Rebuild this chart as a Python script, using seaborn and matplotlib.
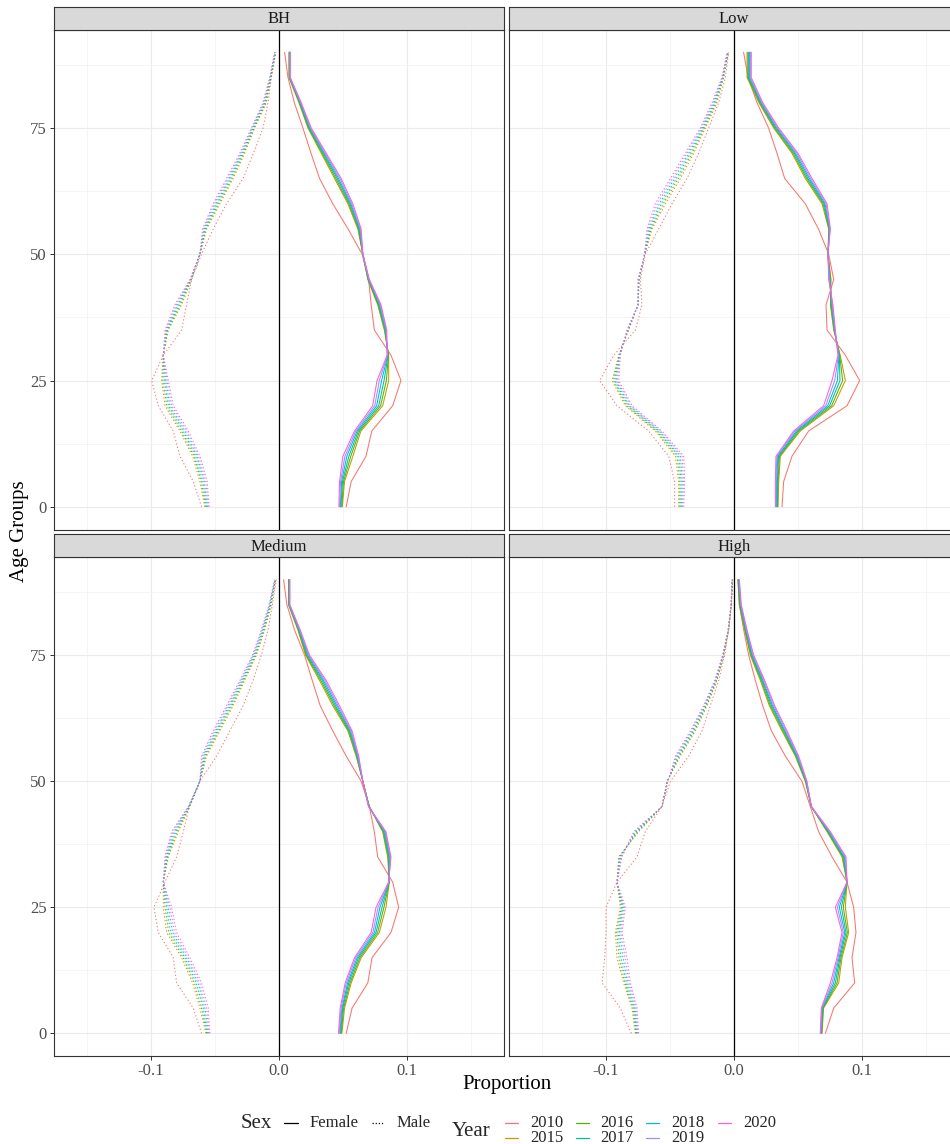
import matplotlib
matplotlib.use("Agg")
import matplotlib.pyplot as plt
from matplotlib.lines import Line2D
import pandas as pd
import seaborn as sns

# ---------------- data ----------------
ages = [0, 5, 10, 15, 20, 25, 30, 35, 40, 45, 50, 55, 60, 65, 70, 75, 80, 85, 90]
years = ["2010", "2015", "2016", "2017", "2018", "2019", "2020"]
regions = ["BH", "Low", "Medium", "High"]
sexes = ["Female", "Male"]
year_colors = ["#F8766D", "#C49A00", "#53B400", "#00C094", "#00B6EB", "#A58AFF", "#FB61D7"]

# BH
bh_f_2010 = [0.0525,0.0564,0.0680,0.0725,0.0888,0.0953,0.0875,0.0745,0.0720,0.0700,0.0650,0.0540,0.0420,0.0317,0.0250,0.0187,0.0120,0.0070,0.0044]
bh_f_2015 = [0.0495,0.0512,0.0577,0.0640,0.0810,0.0857,0.0857,0.0823,0.0771,0.0694,0.0655,0.0616,0.0538,0.0434,0.0330,0.0226,0.0156,0.0078,0.0078]
bh_f_2016 = [0.0490,0.0504,0.0561,0.0630,0.0794,0.0839,0.0855,0.0827,0.0776,0.0696,0.0655,0.0621,0.0546,0.0444,0.0338,0.0231,0.0160,0.0080,0.0080]
bh_f_2017 = [0.0484,0.0496,0.0546,0.0620,0.0779,0.0821,0.0852,0.0831,0.0781,0.0699,0.0655,0.0626,0.0554,0.0455,0.0346,0.0236,0.0163,0.0082,0.0082]
bh_f_2018 = [0.0479,0.0489,0.0530,0.0610,0.0763,0.0802,0.0850,0.0834,0.0787,0.0701,0.0655,0.0632,0.0561,0.0465,0.0353,0.0242,0.0167,0.0084,0.0084]
bh_f_2019 = [0.0473,0.0481,0.0515,0.0600,0.0748,0.0784,0.0847,0.0838,0.0792,0.0704,0.0655,0.0637,0.0569,0.0476,0.0361,0.0247,0.0170,0.0086,0.0086]
bh_f_2020 = [0.0468,0.0473,0.0499,0.0590,0.0732,0.0766,0.0845,0.0842,0.0797,0.0706,0.0655,0.0642,0.0577,0.0486,0.0369,0.0252,0.0174,0.0088,0.0088]

bh_m_2010 = [-0.0605,-0.0670,-0.0774,-0.0826,-0.0943,-0.0995,-0.0904,-0.0761,-0.0722,-0.0683,-0.0605,-0.0514,-0.0410,-0.0280,-0.0200,-0.0125,-0.0086,-0.0060,-0.0026]
bh_m_2015 = [-0.0580,-0.0618,-0.0675,-0.0774,-0.0890,-0.0917,-0.0904,-0.0865,-0.0761,-0.0683,-0.0618,-0.0566,-0.0462,-0.0358,-0.0268,-0.0190,-0.0099,-0.0060,-0.0026]
bh_m_2016 = [-0.0573,-0.0607,-0.0664,-0.0761,-0.0877,-0.0907,-0.0904,-0.0870,-0.0771,-0.0686,-0.0618,-0.0572,-0.0472,-0.0368,-0.0276,-0.0195,-0.0104,-0.0063,-0.0028]
bh_m_2017 = [-0.0566,-0.0595,-0.0652,-0.0748,-0.0864,-0.0896,-0.0904,-0.0875,-0.0782,-0.0688,-0.0618,-0.0578,-0.0483,-0.0379,-0.0283,-0.0200,-0.0109,-0.0065,-0.0029]
bh_m_2018 = [-0.0559,-0.0584,-0.0641,-0.0735,-0.0852,-0.0886,-0.0904,-0.0880,-0.0792,-0.0691,-0.0618,-0.0585,-0.0493,-0.0389,-0.0291,-0.0206,-0.0115,-0.0068,-0.0031]
bh_m_2019 = [-0.0552,-0.0572,-0.0629,-0.0722,-0.0839,-0.0875,-0.0904,-0.0885,-0.0803,-0.0693,-0.0618,-0.0591,-0.0504,-0.0400,-0.0298,-0.0211,-0.0120,-0.0070,-0.0032]
bh_m_2020 = [-0.0545,-0.0561,-0.0618,-0.0709,-0.0826,-0.0865,-0.0904,-0.0890,-0.0813,-0.0696,-0.0618,-0.0597,-0.0514,-0.0410,-0.0306,-0.0216,-0.0125,-0.0073,-0.0034]

# Low
low_f_2010 = [0.0375,0.0388,0.0453,0.0583,0.0883,0.0982,0.0870,0.0727,0.0719,0.0779,0.0740,0.0660,0.0557,0.0396,0.0336,0.0270,0.0180,0.0110,0.0075]
low_f_2015 = [0.0344,0.0349,0.0362,0.0518,0.0779,0.0870,0.0830,0.0779,0.0753,0.0758,0.0734,0.0740,0.0688,0.0557,0.0453,0.0310,0.0195,0.0102,0.0102]
low_f_2016 = [0.0340,0.0344,0.0355,0.0508,0.0763,0.0849,0.0826,0.0782,0.0757,0.0754,0.0734,0.0743,0.0696,0.0568,0.0462,0.0318,0.0201,0.0109,0.0109]
low_f_2017 = [0.0336,0.0339,0.0348,0.0497,0.0747,0.0828,0.0823,0.0784,0.0761,0.0751,0.0734,0.0745,0.0704,0.0578,0.0472,0.0326,0.0207,0.0115,0.0115]
low_f_2018 = [0.0331,0.0333,0.0342,0.0487,0.0732,0.0808,0.0819,0.0787,0.0765,0.0747,0.0734,0.0748,0.0711,0.0589,0.0481,0.0333,0.0213,0.0122,0.0122]
low_f_2019 = [0.0327,0.0328,0.0335,0.0476,0.0716,0.0787,0.0816,0.0789,0.0769,0.0744,0.0734,0.0750,0.0719,0.0599,0.0491,0.0341,0.0219,0.0128,0.0128]
low_f_2020 = [0.0323,0.0323,0.0328,0.0466,0.0700,0.0766,0.0812,0.0792,0.0773,0.0740,0.0734,0.0753,0.0727,0.0610,0.0500,0.0349,0.0225,0.0135,0.0135]

low_m_2010 = [-0.0464,-0.0464,-0.0510,-0.0667,-0.0914,-0.1050,-0.0940,-0.0770,-0.0719,-0.0732,-0.0693,-0.0589,-0.0484,-0.0367,-0.0276,-0.0198,-0.0120,-0.0068,-0.0042]
low_m_2015 = [-0.0432,-0.0432,-0.0458,-0.0615,-0.0849,-0.0953,-0.0900,-0.0823,-0.0750,-0.0740,-0.0698,-0.0640,-0.0536,-0.0419,-0.0315,-0.0224,-0.0133,-0.0081,-0.0042]
low_m_2016 = [-0.0424,-0.0423,-0.0445,-0.0605,-0.0839,-0.0942,-0.0898,-0.0826,-0.0750,-0.0742,-0.0698,-0.0648,-0.0552,-0.0435,-0.0328,-0.0232,-0.0141,-0.0084,-0.0045]
low_m_2017 = [-0.0416,-0.0413,-0.0432,-0.0594,-0.0828,-0.0932,-0.0895,-0.0828,-0.0750,-0.0744,-0.0698,-0.0656,-0.0568,-0.0450,-0.0341,-0.0240,-0.0149,-0.0086,-0.0047]
low_m_2018 = [-0.0409,-0.0404,-0.0419,-0.0584,-0.0818,-0.0921,-0.0893,-0.0831,-0.0750,-0.0746,-0.0698,-0.0664,-0.0583,-0.0466,-0.0354,-0.0247,-0.0156,-0.0089,-0.0050]
low_m_2019 = [-0.0401,-0.0394,-0.0406,-0.0573,-0.0807,-0.0911,-0.0890,-0.0833,-0.0750,-0.0748,-0.0698,-0.0672,-0.0599,-0.0481,-0.0367,-0.0255,-0.0164,-0.0091,-0.0052]
low_m_2020 = [-0.0393,-0.0385,-0.0393,-0.0563,-0.0797,-0.0900,-0.0888,-0.0836,-0.0750,-0.0750,-0.0698,-0.0680,-0.0615,-0.0497,-0.0380,-0.0263,-0.0172,-0.0094,-0.0055]

# Medium
med_f_2010 = [0.0525,0.0571,0.0694,0.0727,0.0875,0.0935,0.0888,0.0771,0.0745,0.0706,0.0642,0.0525,0.0420,0.0322,0.0260,0.0200,0.0122,0.0062,0.0036]
med_f_2015 = [0.0491,0.0512,0.0564,0.0642,0.0784,0.0836,0.0862,0.0849,0.0810,0.0706,0.0655,0.0603,0.0538,0.0420,0.0317,0.0208,0.0148,0.0075,0.0075]
med_f_2016 = [0.0486,0.0505,0.0555,0.0632,0.0771,0.0820,0.0861,0.0854,0.0815,0.0705,0.0655,0.0607,0.0545,0.0431,0.0327,0.0214,0.0152,0.0077,0.0077]
med_f_2017 = [0.0481,0.0498,0.0545,0.0621,0.0758,0.0805,0.0860,0.0859,0.0820,0.0703,0.0655,0.0611,0.0551,0.0441,0.0338,0.0220,0.0155,0.0079,0.0079]
med_f_2018 = [0.0475,0.0492,0.0536,0.0611,0.0746,0.0789,0.0859,0.0865,0.0826,0.0702,0.0655,0.0615,0.0558,0.0452,0.0348,0.0227,0.0159,0.0081,0.0081]
med_f_2019 = [0.0470,0.0485,0.0526,0.0600,0.0733,0.0774,0.0858,0.0870,0.0831,0.0700,0.0655,0.0619,0.0564,0.0462,0.0359,0.0233,0.0162,0.0083,0.0083]
med_f_2020 = [0.0465,0.0478,0.0517,0.0590,0.0720,0.0758,0.0857,0.0875,0.0836,0.0699,0.0655,0.0623,0.0571,0.0473,0.0369,0.0239,0.0166,0.0085,0.0085]

med_m_2010 = [-0.0605,-0.0670,-0.0800,-0.0826,-0.0943,-0.0977,-0.0891,-0.0800,-0.0748,-0.0701,-0.0618,-0.0488,-0.0384,-0.0280,-0.0203,-0.0138,-0.0086,-0.0052,-0.0021]
med_m_2015 = [-0.0571,-0.0618,-0.0675,-0.0761,-0.0878,-0.0904,-0.0904,-0.0865,-0.0787,-0.0696,-0.0618,-0.0566,-0.0462,-0.0358,-0.0268,-0.0177,-0.0112,-0.0060,-0.0026]
med_m_2016 = [-0.0565,-0.0605,-0.0661,-0.0748,-0.0862,-0.0891,-0.0904,-0.0870,-0.0797,-0.0699,-0.0618,-0.0574,-0.0472,-0.0368,-0.0276,-0.0183,-0.0117,-0.0064,-0.0028]
med_m_2017 = [-0.0559,-0.0592,-0.0647,-0.0735,-0.0847,-0.0878,-0.0904,-0.0875,-0.0808,-0.0701,-0.0618,-0.0582,-0.0483,-0.0379,-0.0283,-0.0189,-0.0122,-0.0067,-0.0029]
med_m_2018 = [-0.0552,-0.0579,-0.0633,-0.0722,-0.0831,-0.0865,-0.0904,-0.0881,-0.0818,-0.0704,-0.0618,-0.0589,-0.0493,-0.0389,-0.0291,-0.0196,-0.0128,-0.0071,-0.0031]
med_m_2019 = [-0.0546,-0.0566,-0.0619,-0.0709,-0.0816,-0.0852,-0.0904,-0.0886,-0.0829,-0.0706,-0.0618,-0.0597,-0.0504,-0.0400,-0.0298,-0.0202,-0.0133,-0.0074,-0.0032]
med_m_2020 = [-0.0540,-0.0553,-0.0605,-0.0696,-0.0800,-0.0839,-0.0904,-0.0891,-0.0839,-0.0709,-0.0618,-0.0605,-0.0514,-0.0410,-0.0306,-0.0208,-0.0138,-0.0078,-0.0034]

# High
high_f_2010 = [0.0714,0.0779,0.0943,0.0922,0.0953,0.0935,0.0883,0.0766,0.0661,0.0596,0.0531,0.0401,0.0292,0.0224,0.0167,0.0115,0.0076,0.0042,0.0031]
high_f_2015 = [0.0688,0.0700,0.0818,0.0844,0.0896,0.0870,0.0883,0.0844,0.0727,0.0604,0.0557,0.0479,0.0375,0.0276,0.0206,0.0128,0.0083,0.0042,0.0031]
high_f_2016 = [0.0685,0.0696,0.0805,0.0836,0.0886,0.0854,0.0883,0.0850,0.0732,0.0604,0.0560,0.0484,0.0383,0.0284,0.0213,0.0133,0.0087,0.0045,0.0033]
high_f_2017 = [0.0682,0.0693,0.0792,0.0828,0.0875,0.0839,0.0883,0.0856,0.0737,0.0604,0.0562,0.0489,0.0391,0.0293,0.0220,0.0138,0.0091,0.0048,0.0035]
high_f_2018 = [0.0680,0.0689,0.0779,0.0821,0.0865,0.0823,0.0883,0.0863,0.0743,0.0604,0.0565,0.0495,0.0398,0.0301,0.0226,0.0144,0.0094,0.0051,0.0038]
high_f_2019 = [0.0677,0.0686,0.0766,0.0813,0.0854,0.0808,0.0883,0.0869,0.0748,0.0604,0.0567,0.0500,0.0406,0.0310,0.0233,0.0149,0.0098,0.0054,0.0040]
high_f_2020 = [0.0674,0.0682,0.0753,0.0805,0.0844,0.0792,0.0883,0.0875,0.0753,0.0604,0.0570,0.0505,0.0414,0.0318,0.0240,0.0154,0.0102,0.0057,0.0042]

high_m_2010 = [-0.0802,-0.0888,-0.1031,-0.1010,-0.1000,-0.1000,-0.0914,-0.0758,-0.0693,-0.0563,-0.0497,-0.0354,-0.0250,-0.0185,-0.0120,-0.0073,-0.0042,-0.0021,-0.0016]
high_m_2015 = [-0.0771,-0.0797,-0.0862,-0.0914,-0.0927,-0.0888,-0.0914,-0.0901,-0.0745,-0.0563,-0.0523,-0.0419,-0.0302,-0.0211,-0.0133,-0.0081,-0.0042,-0.0021,-0.0010]
high_m_2016 = [-0.0766,-0.0789,-0.0852,-0.0898,-0.0917,-0.0880,-0.0914,-0.0896,-0.0753,-0.0563,-0.0522,-0.0427,-0.0310,-0.0216,-0.0137,-0.0082,-0.0043,-0.0021,-0.0011]
high_m_2017 = [-0.0761,-0.0781,-0.0841,-0.0883,-0.0906,-0.0872,-0.0914,-0.0891,-0.0761,-0.0563,-0.0520,-0.0435,-0.0318,-0.0221,-0.0140,-0.0084,-0.0044,-0.0022,-0.0012]
high_m_2018 = [-0.0755,-0.0774,-0.0831,-0.0867,-0.0896,-0.0865,-0.0914,-0.0885,-0.0768,-0.0563,-0.0519,-0.0442,-0.0325,-0.0227,-0.0144,-0.0086,-0.0045,-0.0022,-0.0014]
high_m_2019 = [-0.0750,-0.0766,-0.0820,-0.0852,-0.0885,-0.0857,-0.0914,-0.0880,-0.0776,-0.0563,-0.0517,-0.0450,-0.0333,-0.0232,-0.0147,-0.0087,-0.0046,-0.0023,-0.0015]
high_m_2020 = [-0.0745,-0.0758,-0.0810,-0.0836,-0.0875,-0.0849,-0.0914,-0.0875,-0.0784,-0.0563,-0.0516,-0.0458,-0.0341,-0.0237,-0.0151,-0.0089,-0.0047,-0.0023,-0.0016]

series = {
    ("BH", "Female"): [bh_f_2010, bh_f_2015, bh_f_2016, bh_f_2017, bh_f_2018, bh_f_2019, bh_f_2020],
    ("BH", "Male"): [bh_m_2010, bh_m_2015, bh_m_2016, bh_m_2017, bh_m_2018, bh_m_2019, bh_m_2020],
    ("Low", "Female"): [low_f_2010, low_f_2015, low_f_2016, low_f_2017, low_f_2018, low_f_2019, low_f_2020],
    ("Low", "Male"): [low_m_2010, low_m_2015, low_m_2016, low_m_2017, low_m_2018, low_m_2019, low_m_2020],
    ("Medium", "Female"): [med_f_2010, med_f_2015, med_f_2016, med_f_2017, med_f_2018, med_f_2019, med_f_2020],
    ("Medium", "Male"): [med_m_2010, med_m_2015, med_m_2016, med_m_2017, med_m_2018, med_m_2019, med_m_2020],
    ("High", "Female"): [high_f_2010, high_f_2015, high_f_2016, high_f_2017, high_f_2018, high_f_2019, high_f_2020],
    ("High", "Male"): [high_m_2010, high_m_2015, high_m_2016, high_m_2017, high_m_2018, high_m_2019, high_m_2020],
}

rows = []
for (reg, sex), lists in series.items():
    for yr, vals in zip(years, lists):
        for a, v in zip(ages, vals):
            rows.append({"Region": reg, "Sex": sex, "Year": yr, "Age": a, "Proportion": v})
df = pd.DataFrame(rows)

# ---------------- style ----------------
sns.set_theme(style="white")
plt.rcParams["font.family"] = ["Liberation Serif", "DejaVu Serif"]
plt.rcParams["axes.unicode_minus"] = False

W, H = 950, 1144
fig = plt.figure(figsize=(W / 100, H / 100), dpi=100)
fig.patch.set_facecolor("white")

def fx(px):
    return px / W

def fy(py):
    return 1 - py / H

col_x = [54, 509]
panel_w = 450
rows_y = [(7, 29.5, 529.5), (534, 557, 1056)]  # strip top, panel top, panel bottom

palette = dict(zip(years, year_colors))
border_c = "#333333"

for i, reg in enumerate(regions):
    r, c = divmod(i, 2)
    st, pt, pb = rows_y[r]
    x0 = col_x[c]
    ax = fig.add_axes([fx(x0), fy(pb), panel_w / W, (pb - pt) / H])
    ax.set_facecolor("white")
    ax.set_axisbelow(True)
    sub = df[df["Region"] == reg]
    ax.axvline(0, color="black", lw=0.9, zorder=1)
    sns.lineplot(data=sub, x="Proportion", y="Age", hue="Year", style="Sex",
                 hue_order=years, style_order=sexes, palette=palette,
                 dashes={"Female": "", "Male": (1.2, 2.2)},
                 orient="y", estimator=None, sort=True, lw=0.75,
                 legend=False, ax=ax, zorder=2)
    ax.set_xlim(-0.1758, 0.1758)
    ax.set_ylim(-4.5, 94.5)
    ax.set_xticks([-0.1, 0.0, 0.1])
    ax.set_xticks([-0.15, -0.05, 0.05, 0.15], minor=True)
    ax.set_yticks([0, 25, 50, 75])
    ax.set_yticks([12.5, 37.5, 62.5, 87.5], minor=True)
    ax.set_xticklabels(["-0.1", "0.0", "0.1"])
    ax.set_yticklabels(["0", "25", "50", "75"])
    ax.grid(which="major", color="#EBEBEB", lw=0.8)
    ax.grid(which="minor", color="#F2F2F2", lw=0.5)
    ax.tick_params(which="minor", length=0)
    ax.tick_params(which="major", length=2.75, width=0.7, color=border_c,
                   labelcolor="#4D4D4D", labelsize=12, pad=2.5,
                   bottom=(r == 1), labelbottom=(r == 1),
                   left=(c == 0), labelleft=(c == 0))
    ax.set_xlabel("")
    ax.set_ylabel("")
    for s in ax.spines.values():
        s.set_visible(True)
        s.set_color(border_c)
        s.set_linewidth(0.8)
    # strip
    sax = fig.add_axes([fx(x0), fy(pt), panel_w / W, (pt - st) / H])
    sax.set_facecolor("#D9D9D9")
    sax.set_xticks([])
    sax.set_yticks([])
    for s in sax.spines.values():
        s.set_visible(True)
        s.set_color(border_c)
        s.set_linewidth(0.8)
    sax.text(0.5, 0.45, reg, ha="center", va="center", fontsize=12,
             color="#1A1A1A", transform=sax.transAxes)

# axis titles
fig.text(fx(507), fy(1085), "Proportion", ha="center", va="center", fontsize=15, color="black")
fig.text(fx(20), fy(531), "Age Groups", ha="center", va="center", rotation=90, fontsize=15, color="black")

# ---------------- legend ----------------
def key(x0, x1, y, color, dashes=None):
    ln = Line2D([fx(x0), fx(x1)], [fy(y), fy(y)], transform=fig.transFigure,
                color=color, lw=0.9)
    if dashes:
        ln.set_dashes(dashes)
    fig.add_artist(ln)

fig.text(fx(241), fy(1124), "Sex", ha="left", va="center", fontsize=15)
key(284, 298, 1123, "black")
fig.text(fx(310), fy(1123), "Female", ha="left", va="center", fontsize=12)
key(372, 384, 1123, "black", (1.0, 1.5))
fig.text(fx(397), fy(1123), "Male", ha="left", va="center", fontsize=12)

fig.text(fx(452), fy(1131), "Year", ha="left", va="center", fontsize=15)
key_x = [505, 576, 646, 718]
text_x = [530, 600, 671, 743]
row_y = [1123, 1138]
for k, yr in enumerate(years):
    col, rr = divmod(k, 2)
    key(key_x[col], key_x[col] + 13, row_y[rr], palette[yr])
    fig.text(fx(text_x[col]), fy(row_y[rr]), yr, ha="left", va="center", fontsize=12)

fig.savefig("out.png", dpi=100, facecolor="white")
